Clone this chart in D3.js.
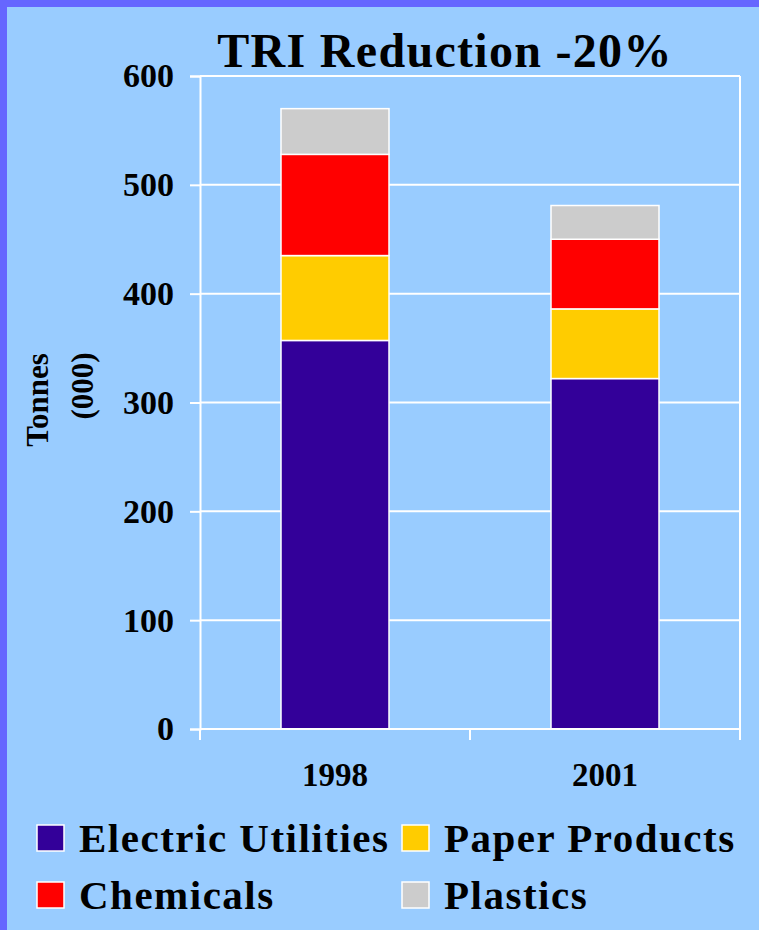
<!DOCTYPE html>
<html><head><meta charset="utf-8">
<script src="https://cdn.jsdelivr.net/npm/d3@7"></script>
<style>html,body{margin:0;padding:0;background:#99CCFF;}svg{display:block;}</style>
</head><body>
<svg id="chart" width="759" height="930"></svg>
<script>
const years = ["1998", "2001"];
const seriesNames = ["Electric Utilities", "Paper Products", "Chemicals", "Plastics"];
const electric = [357, 322];
const paper = [78, 64];
const chemicals = [93, 64];
const plastics = [42, 31];
const colors = ["#330099", "#FFCC00", "#FF0000", "#CCCCCC"];
const yTicks = [0, 100, 200, 300, 400, 500, 600];

const svg = d3.select("#chart");
const W = 759, H = 930;
const font = "'Liberation Serif','Times New Roman',serif";

svg.append("rect").attr("width", W).attr("height", H).attr("fill", "#99CCFF");
svg.append("rect").attr("x", 0).attr("y", 0).attr("width", W).attr("height", 7).attr("fill", "#6666FF");
svg.append("rect").attr("x", 0).attr("y", 0).attr("width", 7).attr("height", H).attr("fill", "#6666FF");

const m = {left: 200, right: 740, top: 76, bottom: 729};
const x = d3.scaleBand().domain(years).range([m.left, m.right]).paddingInner(0.6).paddingOuter(0.3);
const y = d3.scaleLinear().domain([0, 600]).range([m.bottom, m.top]);

const table = years.map((yr, i) => ({
  year: yr,
  "Electric Utilities": electric[i],
  "Paper Products": paper[i],
  "Chemicals": chemicals[i],
  "Plastics": plastics[i]
}));
const stacked = d3.stack().keys(seriesNames)(table);

// gridlines
svg.append("g").selectAll("line").data(yTicks.filter(d => d > 0)).join("line")
  .attr("x1", m.left).attr("x2", m.right)
  .attr("y1", d => y(d)).attr("y2", d => y(d))
  .attr("stroke", "#fff").attr("stroke-width", 2);
// right border
svg.append("line").attr("x1", m.right).attr("x2", m.right).attr("y1", m.top).attr("y2", m.bottom)
  .attr("stroke", "#fff").attr("stroke-width", 2);

// bars
svg.append("g").selectAll("g").data(stacked).join("g")
  .attr("fill", (d, i) => colors[i])
  .selectAll("rect").data(d => d).join("rect")
  .attr("x", d => x(d.data.year))
  .attr("width", x.bandwidth())
  .attr("y", d => y(d[1]))
  .attr("height", d => y(d[0]) - y(d[1]))
  .attr("stroke", "#fff").attr("stroke-width", 1.5);

// y axis
const yAxis = d3.axisLeft(y).tickValues(yTicks).tickSize(10).tickPadding(16);
const gy = svg.append("g").attr("transform", `translate(${m.left},0)`).call(yAxis);
gy.select(".domain").attr("stroke", "#fff").attr("stroke-width", 2);
gy.selectAll(".tick line").attr("stroke", "#fff").attr("stroke-width", 2);
gy.selectAll(".tick text").attr("font-family", font).attr("font-weight", "bold")
  .attr("font-size", 34).attr("fill", "#000");

// x axis
const xPos = d3.scaleLinear().domain([0, 2]).range([m.left, m.right]);
const gx = svg.append("g").attr("transform", `translate(0,${m.bottom})`);
gx.append("line").attr("x1", m.left).attr("x2", m.right).attr("stroke", "#fff").attr("stroke-width", 2);
gx.selectAll("line.t").data([0, 1, 2]).join("line").attr("class", "t")
  .attr("x1", d => xPos(d)).attr("x2", d => xPos(d)).attr("y1", 0).attr("y2", 11)
  .attr("stroke", "#fff").attr("stroke-width", 2);
gx.selectAll("text").data(years).join("text")
  .attr("x", d => x(d) + x.bandwidth() / 2).attr("y", 57)
  .attr("text-anchor", "middle").attr("font-family", font).attr("font-weight", "bold")
  .attr("font-size", 33).text(d => d);

// title
svg.append("text").attr("x", 445).attr("y", 67).attr("text-anchor", "middle")
  .attr("font-family", font).attr("font-weight", "bold").attr("font-size", 48)
  .attr("letter-spacing", 1.3)
  .text("TRI Reduction -20%");

// y axis title
svg.append("text").attr("transform", "translate(48,400) rotate(-90)").attr("text-anchor", "middle")
  .attr("font-family", font).attr("font-weight", "bold").attr("font-size", 31).text("Tonnes");
svg.append("text").attr("transform", "translate(93,386) rotate(-90)").attr("text-anchor", "middle")
  .attr("font-family", font).attr("font-weight", "bold").attr("font-size", 31).text("(000)");

// legend
const legPos = [[37, 825], [402, 825], [37, 882], [402, 882]];
const leg = svg.append("g").selectAll("g").data(seriesNames).join("g")
  .attr("transform", (d, i) => `translate(${legPos[i][0]},${legPos[i][1]})`);
leg.append("rect").attr("width", 27).attr("height", 26)
  .attr("fill", (d, i) => colors[i]).attr("stroke", "#fff").attr("stroke-width", 1.5);
leg.append("text").attr("x", 42).attr("y", 27).attr("font-family", font).attr("font-weight", "bold")
  .attr("font-size", 41).attr("letter-spacing", 1.5).text(d => d);
</script>
</body></html>
